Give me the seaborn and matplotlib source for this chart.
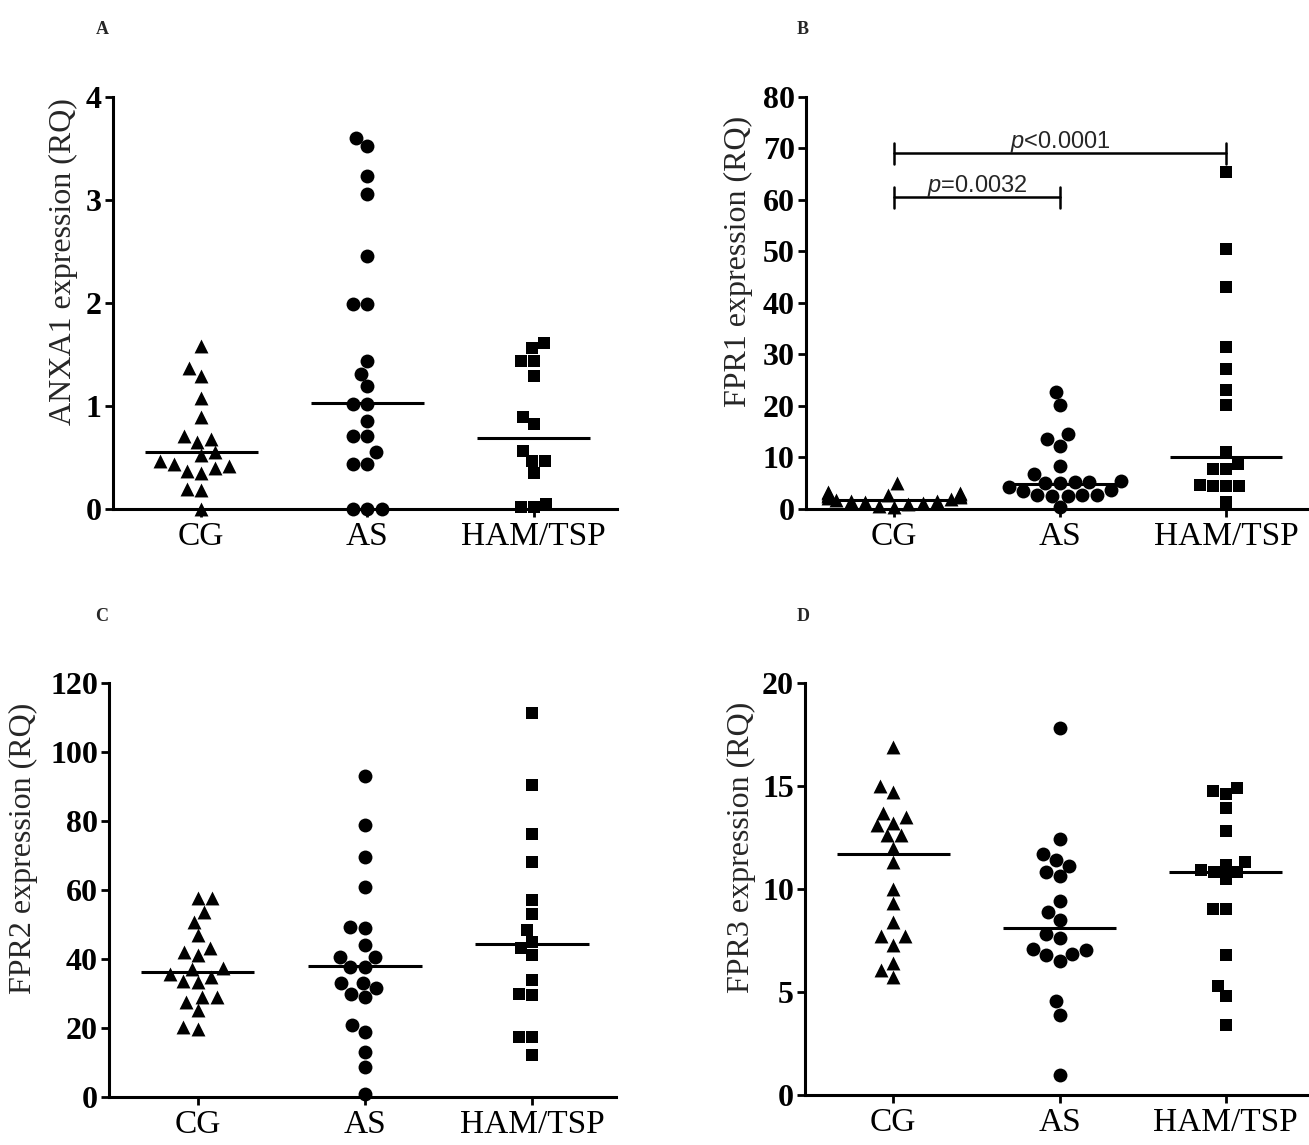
import warnings
import numpy as np
import pandas as pd
import matplotlib
matplotlib.use("Agg")
import matplotlib.pyplot as plt
import seaborn as sns

warnings.filterwarnings("ignore")

# groups and markers
groups = ["CG", "AS", "HAM/TSP"]
markers = ["^", "o", "s"]
marker_sizes = [10, 10, 9]

# A - ANXA1
anxa1_cg = [1.58, 1.37, 1.29, 1.08, 0.89, 0.71, 0.68, 0.65, 0.55, 0.52,
            0.47, 0.44, 0.42, 0.40, 0.37, 0.35, 0.19, 0.18, 0.0]
anxa1_as = [3.60, 3.52, 3.23, 3.06, 2.45, 1.99, 1.99, 1.44, 1.31, 1.19,
            1.02, 1.02, 0.85, 0.71, 0.71, 0.55, 0.44, 0.44, 0.0, 0.0, 0.0]
anxa1_ham = [1.61, 1.56, 1.44, 1.44, 1.29, 0.89, 0.82, 0.56, 0.47, 0.47,
             0.35, 0.05, 0.02, 0.02]
anxa1_medians = [0.55, 1.03, 0.69]

# B - FPR1
fpr1_cg = [5.0, 3.3, 3.1, 3.0, 2.9, 2.8, 2.7, 2.6, 2.5, 2.4,
           2.2, 2.0, 1.8, 1.6, 1.5, 1.3, 1.1, 0.9, 0.6, 0.3]
fpr1_as = [22.7, 20.1, 14.6, 13.6, 12.3, 8.4, 6.8, 5.4, 5.2, 5.2, 5.1,
           5.0, 4.2, 3.6, 3.5, 2.8, 2.7, 2.7, 2.6, 2.5, 0.3]
fpr1_ham = [65.4, 50.5, 43.1, 31.4, 27.2, 23.0, 20.1, 11.0, 8.7, 7.8,
            7.8, 4.6, 4.5, 4.5, 4.4, 1.3]
fpr1_medians = [1.7, 4.9, 10.0]

# C - FPR2
fpr2_cg = [57.6, 57.6, 53.7, 50.8, 46.9, 43.1, 42.1, 41.1, 37.3, 37.0,
           35.6, 34.8, 33.7, 33.3, 29.0, 29.0, 27.6, 25.2, 20.3, 19.8]
fpr2_as = [93.1, 78.7, 69.7, 60.8, 49.4, 48.9, 44.2, 40.6, 40.6, 37.7, 37.7,
           33.1, 33.1, 31.5, 30.0, 29.0, 20.8, 18.9, 13.1, 8.7, 1.0]
fpr2_ham = [111.3, 90.5, 76.2, 68.2, 57.1, 53.0, 48.4, 45.0, 43.1, 41.1,
            33.9, 30.0, 29.5, 17.4, 17.4, 12.1]
fpr2_medians = [36.3, 37.9, 44.3]

# D - FPR3
fpr3_cg = [16.9, 15.0, 14.7, 13.7, 13.5, 13.2, 13.1, 12.6, 12.6, 12.0,
           11.3, 10.0, 9.3, 8.4, 7.7, 7.7, 7.3, 6.4, 6.05, 5.7]
fpr3_as = [17.8, 12.4, 11.7, 11.4, 11.1, 10.8, 10.6, 9.4, 8.9, 8.5,
           7.8, 7.6, 7.1, 7.05, 6.85, 6.8, 6.5, 4.55, 3.9, 0.97]
fpr3_ham = [14.9, 14.75, 14.6, 13.9, 12.8, 11.3, 11.15, 10.9, 10.8, 10.8,
            10.5, 9.0, 9.0, 6.8, 5.3, 4.8, 3.4]
fpr3_medians = [11.7, 8.1, 10.8]

# significance brackets on panel B: (from group, to group, y, text)
fpr1_brackets = [(0, 1, 60.5, "=0.0032"), (0, 2, 69.0, "<0.0001")]


sns.set_theme(style="ticks")
plt.rcParams["font.family"] = ["Liberation Serif", "DejaVu Serif"]
plt.rcParams["mathtext.fontset"] = "custom"
plt.rcParams["mathtext.it"] = "Liberation Sans:italic"
plt.rcParams["mathtext.rm"] = "Liberation Sans"

fig = plt.figure(figsize=(13.09, 11.45), dpi=100)


def draw_panel(rect, values, medians, ymax, ystep, ylabel, label_x):
    ax = fig.add_axes(rect)
    df = pd.concat([pd.DataFrame({"group": g, "value": v})
                    for g, v in zip(groups, values)], ignore_index=True)
    for g, m, s in zip(groups, markers, marker_sizes):
        sns.swarmplot(data=df[df["group"] == g], x="group", y="value",
                      order=groups, marker=m, color="black", size=s,
                      linewidth=0, ax=ax)
    for c in ax.collections:
        c.set_clip_on(False)
    pos = np.arange(len(groups))
    ax.hlines(medians, pos - 0.34, pos + 0.34, color="black", lw=2.2,
              clip_on=False, zorder=5)

    ax.set_xlim(-0.53, 2.5)
    ax.set_ylim(0, ymax)
    ax.set_yticks(np.arange(0, ymax + ystep / 2, ystep))
    ax.set_xticks(pos)
    ax.set_xticklabels(groups)
    ax.set_xlabel("")
    ax.set_ylabel(ylabel, fontsize=23)
    ax.yaxis.set_label_coords(label_x, 0.6)

    sns.despine(ax=ax)
    for side in ["left", "bottom"]:
        ax.spines[side].set_linewidth(2.2)
        ax.spines[side].set_color("black")
    ax.tick_params(axis="y", length=6, width=2, pad=2, labelsize=23,
                   colors="black")
    ax.tick_params(axis="x", length=6, width=2, pad=3, labelsize=24,
                   colors="black")
    plt.setp(ax.get_yticklabels(), fontweight="bold")
    return ax


ax_a = draw_panel([0.0863, 0.5555, 0.385, 0.360],
                  [anxa1_cg, anxa1_as, anxa1_ham], anxa1_medians,
                  4, 1, "ANXA1 expression (RQ)", -0.07)
ax_b = draw_panel([0.6157, 0.5555, 0.3843, 0.360],
                  [fpr1_cg, fpr1_as, fpr1_ham], fpr1_medians,
                  80, 10, "FPR1 expression (RQ)", -0.105)
ax_c = draw_panel([0.0833, 0.0419, 0.387, 0.3616],
                  [fpr2_cg, fpr2_as, fpr2_ham], fpr2_medians,
                  120, 20, "FPR2 expression (RQ)", -0.14)
ax_d = draw_panel([0.615, 0.0437, 0.385, 0.360],
                  [fpr3_cg, fpr3_as, fpr3_ham], fpr3_medians,
                  20, 5, "FPR3 expression (RQ)", -0.098)

# brackets
for x0, x1, y, txt in fpr1_brackets:
    ax_b.plot([x0, x1], [y, y], color="black", lw=1.8)
    for xe in (x0, x1):
        ax_b.plot([xe, xe], [y - 2, y + 2], color="black", lw=1.8)
    ax_b.text((x0 + x1) / 2, y + 1.0, "$p$" + txt, ha="center",
              va="baseline", fontsize=17, family="Liberation Sans")

# panel letters
for lbl, x, y in [("A", 102, 30), ("B", 803, 30), ("C", 102, 617), ("D", 803, 617)]:
    fig.text(x / 1309, 1 - y / 1145, lbl, fontsize=13, fontweight="bold",
             ha="center", va="center")

fig.savefig("out.png", dpi=100, facecolor="white")
